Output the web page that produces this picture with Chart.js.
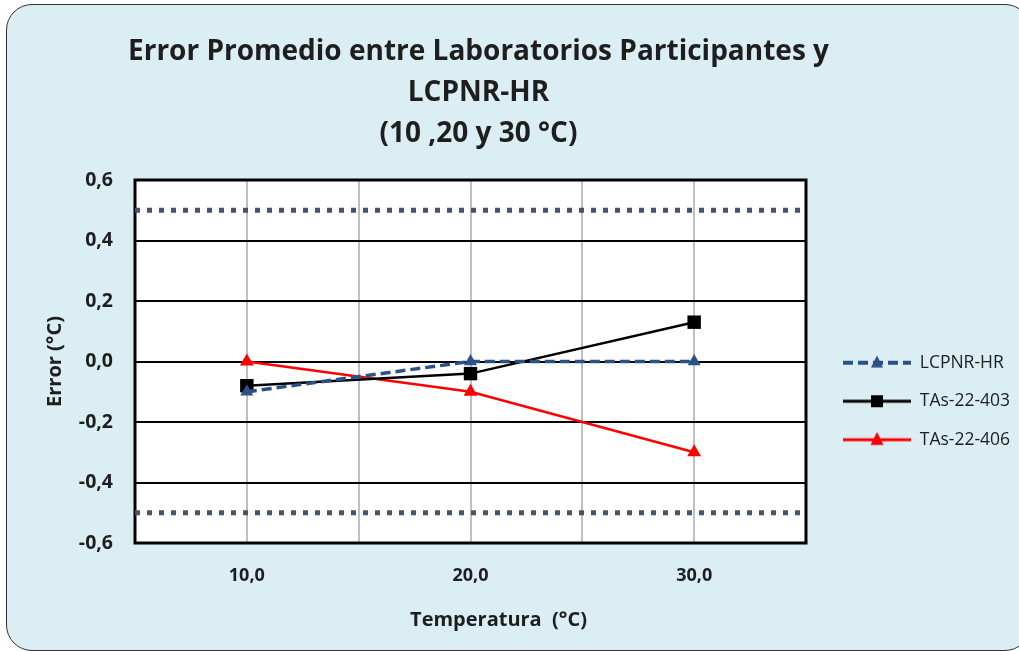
<!DOCTYPE html>
<html><head><meta charset="utf-8">
<script src="https://cdn.jsdelivr.net/npm/chart.js@4.4.1/dist/chart.umd.min.js"></script>
<style>
html,body{margin:0;padding:0;width:1019px;height:651px;overflow:hidden;background:#ffffff;}
#frame{position:absolute;left:6px;top:4px;width:1025px;height:647px;border:1.5px solid #333;border-radius:26px;background:#DAEEF3;box-sizing:border-box;}
#c{position:absolute;left:0;top:0;}
</style></head><body>
<div id="frame"></div>
<canvas id="c" width="1019" height="651"></canvas>
<script>
// ---- data ----
const temperatures = [10, 20, 30];
const lcpnrHR = [-0.10, 0.00, 0.00];
const tas22403 = [-0.08, -0.04, 0.13];
const tas22406 = [0.00, -0.10, -0.30];
const limitTemps = [5, 35];
const upperLimit = [0.5, 0.5];
const lowerLimit = [-0.5, -0.5];
const xLabelValues = [10, 20, 30];
const seriesNames = ['LCPNR-HR', 'TAs-22-403', 'TAs-22-406'];
const titleLines = ['Error Promedio entre Laboratorios Participantes y', 'LCPNR-HR', '(10 ,20 y 30 °C)'];
const xTitle = 'Temperatura  (°C)';
const yTitle = 'Error (°C)';

// ---- styles ----
const FONT = "'Open Sans', 'Liberation Sans', sans-serif";
const TXT = '#1e1e1e';
const BLUE = '#2A5289';
const LIMIT = '#44546A';
const pts = (xs, ys) => xs.map((x, i) => ({x: x, y: ys[i]}));
const fmt = v => (Math.round(v * 10) / 10).toFixed(1).replace('.', ',');

function makeIcon(color, dash, lineW, marker, size) {
  const c = document.createElement('canvas');
  c.width = 68; c.height = 20;
  const g = c.getContext('2d');
  g.strokeStyle = color; g.lineWidth = lineW; g.setLineDash(dash);
  g.beginPath(); g.moveTo(0, 10); g.lineTo(68, 10); g.stroke();
  g.setLineDash([]); g.fillStyle = color;
  if (marker === 'rect') {
    g.fillRect(34 - size / 2, 10 - size / 2, size, size);
  } else {
    g.beginPath(); g.moveTo(34, 10 - size * 0.6); g.lineTo(34 + size / 2, 10 + size * 0.4);
    g.lineTo(34 - size / 2, 10 + size * 0.4); g.closePath(); g.fill();
  }
  return c;
}
const icons = [
  makeIcon(BLUE, [10, 5], 4, 'tri', 12),
  makeIcon('#000000', [], 3, 'rect', 12),
  makeIcon('#ff0000', [], 3, 'tri', 13)
];

const LEG_FONT = 17.5, LEG_PAD = 21, LEG_BOX = 68;
const mctx = document.createElement('canvas').getContext('2d');
mctx.font = '400 ' + LEG_FONT + 'px ' + FONT;
const maxText = Math.max(...seriesNames.map(s => mctx.measureText(s).width));
const legendW = LEG_PAD + LEG_BOX + LEG_FONT / 2 + maxText + 10;
const PLOT_RIGHT = 806;
const rightPad = Math.max(0, 1019 - PLOT_RIGHT - legendW);

const plotBg = {
  id: 'plotBg',
  beforeDraw(chart) {
    const {ctx, chartArea: a} = chart;
    ctx.save(); ctx.fillStyle = '#ffffff';
    ctx.fillRect(a.left, a.top, a.right - a.left, a.bottom - a.top); ctx.restore();
  },
  beforeDatasetsDraw(chart) {
    const {ctx, chartArea: a} = chart;
    ctx.save(); ctx.strokeStyle = '#000'; ctx.lineWidth = 3;
    ctx.strokeRect(a.left, a.top, a.right - a.left, a.bottom - a.top); ctx.restore();
  },
  afterDraw(chart) {
    const {ctx, chartArea: a} = chart;
    ctx.save(); ctx.font = 'bold 20px ' + FONT; ctx.fillStyle = TXT;
    ctx.textAlign = 'center'; ctx.textBaseline = 'middle';
    ctx.fillText(xTitle, (a.left + a.right) / 2 + 28, chart.height - 31);
    ctx.restore();
  }
};
const layoutTweak = {
  id: 'layoutTweak',
  afterLayout(chart) {
    const lg = chart.legend;
    const dx = chart.chartArea.right + 37 - (lg.left + LEG_PAD);
    lg.left += dx; lg.right += dx; lg.top += 153; lg.bottom += 153;
    const tb = chart.titleBlock;
    const d = 478.5 - (tb.left + tb.right) / 2;
    tb.left += d; tb.right += d;
  }
};

new Chart(document.getElementById('c'), {
  type: 'line',
  data: {
    datasets: [
      {label: seriesNames[0], data: pts(temperatures, lcpnrHR), borderColor: BLUE, backgroundColor: BLUE,
       borderWidth: 3.5, borderDash: [10, 5], pointStyle: 'triangle', pointRadius: 7.5, pointBorderWidth: 0, tension: 0},
      {label: seriesNames[1], data: pts(temperatures, tas22403), borderColor: '#000000', backgroundColor: '#000000',
       borderWidth: 2.5, pointStyle: 'rect', pointRadius: 9.5, pointBorderWidth: 0, tension: 0},
      {label: seriesNames[2], data: pts(temperatures, tas22406), borderColor: '#ff0000', backgroundColor: '#ff0000',
       borderWidth: 2.5, pointStyle: 'triangle', pointRadius: 8, pointBorderWidth: 0, tension: 0},
      {label: 'upper', data: pts(limitTemps, upperLimit), borderColor: LIMIT, borderWidth: 5,
       borderDash: [5, 7], borderCapStyle: 'butt', pointRadius: 0},
      {label: 'lower', data: pts(limitTemps, lowerLimit), borderColor: LIMIT, borderWidth: 5,
       borderDash: [5, 7], borderCapStyle: 'butt', pointRadius: 0}
    ]
  },
  options: {
    responsive: false, animation: false, events: [],
    layout: {padding: {left: 0, right: rightPad, top: 0, bottom: 0}},
    plugins: {
      tooltip: {enabled: false},
      title: {
        display: true, text: titleLines, color: TXT, fullSize: true,
        font: {family: FONT, size: 28, weight: 'bold', lineHeight: '41px'},
        padding: {top: 31.5, bottom: 25.5}
      },
      legend: {
        display: true, position: 'right', align: 'start', fullSize: false,
        labels: {
          usePointStyle: true, pointStyleWidth: LEG_BOX, padding: LEG_PAD, color: TXT,
          font: {family: FONT, size: LEG_FONT},
          generateLabels: () => seriesNames.map((n, i) => ({
            text: n, pointStyle: icons[i], datasetIndex: i, hidden: false, lineWidth: 0,
            fillStyle: 'rgba(0,0,0,0)', strokeStyle: 'rgba(0,0,0,0)', fontColor: TXT
          }))
        }
      }
    },
    scales: {
      x: {
        type: 'linear', min: 5, max: 35,
        afterFit: s => { s.height = 108; },
        grid: {color: '#BFBFBF', lineWidth: 2, drawTicks: false},
        border: {display: false},
        ticks: {stepSize: 5, autoSkip: false, maxRotation: 0, padding: 22, color: TXT,
                font: {family: FONT, size: 18, weight: 'bold'},
                callback: v => xLabelValues.includes(v) ? fmt(v) : ''},
        title: {display: false}
      },
      y: {
        min: -0.6, max: 0.6,
        afterFit: s => { s.width = 135; },
        grid: {color: '#000000', lineWidth: 2, drawTicks: false},
        border: {display: false},
        ticks: {stepSize: 0.2, padding: 22, color: TXT, font: {family: FONT, size: 19.5, weight: 'bold'},
                callback: v => fmt(v)},
        title: {display: true, text: yTitle, color: TXT, font: {family: FONT, size: 20, weight: 'bold'},
                padding: {top: 43, bottom: 0}}
      }
    }
  },
  plugins: [plotBg, layoutTweak]
});
</script>
</body></html>
